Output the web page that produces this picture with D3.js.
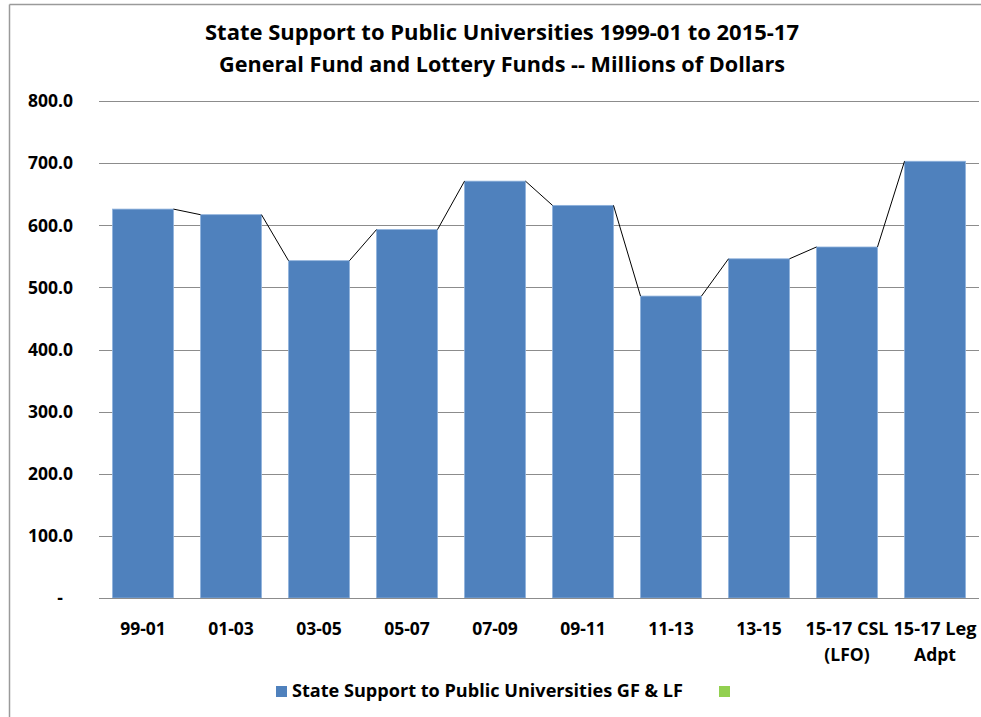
<!DOCTYPE html>
<html>
<head>
<meta charset="utf-8">
<script src="https://cdn.jsdelivr.net/npm/d3@7"></script>
<style>
  html, body { margin: 0; padding: 0; background: #fff; }
  svg { display: block; }
  text { font-family: "Open Sans", "Noto Sans", "DejaVu Sans", sans-serif; font-weight: bold; fill: #000; }
</style>
</head>
<body>
<svg id="chart" width="981" height="717"></svg>
<script>
// ---- data ----
const titleLines = [
  "State Support to Public Universities 1999-01 to 2015-17",
  "General Fund and Lottery Funds -- Millions of Dollars"
];
const categories = ["99-01", "01-03", "03-05", "05-07", "07-09", "09-11", "11-13", "13-15", "15-17 CSL (LFO)", "15-17 Leg Adpt"];
const categoryLines = [["99-01"], ["01-03"], ["03-05"], ["05-07"], ["07-09"], ["09-11"], ["11-13"], ["13-15"], ["15-17 CSL", "(LFO)"], ["15-17 Leg", "Adpt"]];
const supportValues = [626, 617, 543, 593, 671, 632, 486, 546, 565, 703];
const secondValues = [0, 0, 0, 0, 0, 0, 0, 0, 0, 0];
const seriesNames = ["State Support to Public Universities GF & LF", ""];
const seriesColors = ["#4F81BD", "#92D050"];
const yTicks = [0, 100, 200, 300, 400, 500, 600, 700, 800];
const yTickLabels = ["-", "100.0", "200.0", "300.0", "400.0", "500.0", "600.0", "700.0", "800.0"];

// ---- layout ----
const svg = d3.select("#chart");
const plot = { left: 99, right: 979, top: 101, bottom: 598 };

// chart border (top and left visible)
svg.append("line").attr("x1", 9.5).attr("x2", 981).attr("y1", 4.5).attr("y2", 4.5)
  .attr("stroke", "#9a9a9a").attr("stroke-width", 1.5);
svg.append("line").attr("x1", 9.5).attr("x2", 9.5).attr("y1", 4.5).attr("y2", 717)
  .attr("stroke", "#9a9a9a").attr("stroke-width", 1.5);

// title
svg.selectAll("text.title").data(titleLines).enter().append("text")
  .attr("class", "title")
  .attr("x", 502).attr("y", (d, i) => 40 + i * 32)
  .attr("text-anchor", "middle")
  .attr("font-size", 21.5)
  .attr("textLength", (d, i) => i === 0 ? 594 : 566)
  .attr("lengthAdjust", "spacingAndGlyphs")
  .text(d => d);

const x = d3.scaleBand().domain(categories).range([plot.left, plot.right]).paddingInner(0.307).paddingOuter(0.1535);
const y = d3.scaleLinear().domain([0, 800]).range([plot.bottom, plot.top]);

// gridlines
svg.append("g").selectAll("line").data(yTicks.filter(d => d > 0)).enter().append("line")
  .attr("x1", plot.left).attr("x2", plot.right)
  .attr("y1", d => Math.round(y(d)) + 0.5).attr("y2", d => Math.round(y(d)) + 0.5)
  .attr("stroke", "#8c8c8c").attr("stroke-width", 1);

// y-axis labels
svg.append("g").selectAll("text").data(yTicks).enter().append("text")
  .attr("x", d => d === 0 ? 63 : 73)
  .attr("y", d => y(d))
  .attr("dy", "0.36em")
  .attr("text-anchor", "end")
  .attr("font-size", 17.5)
  .text((d, i) => yTickLabels[i]);

// bars
svg.append("g").selectAll("rect").data(supportValues).enter().append("rect")
  .attr("x", (d, i) => x(categories[i]))
  .attr("y", d => y(d))
  .attr("width", x.bandwidth())
  .attr("height", d => y(0) - y(d))
  .attr("fill", seriesColors[0])
  .attr("stroke", "#8fb2dc").attr("stroke-width", 0.8);

// zero series (stacked on top, invisible height)
svg.append("g").selectAll("rect").data(secondValues).enter().append("rect")
  .attr("x", (d, i) => x(categories[i]))
  .attr("y", (d, i) => y(supportValues[i] + d))
  .attr("width", x.bandwidth())
  .attr("height", (d, i) => y(supportValues[i]) - y(supportValues[i] + d))
  .attr("fill", seriesColors[1]);

// series lines connecting bar tops
const segs = d3.range(categories.length - 1).map(i => ({
  x1: x(categories[i]) + x.bandwidth(), y1: y(supportValues[i] + secondValues[i]),
  x2: x(categories[i + 1]), y2: y(supportValues[i + 1] + secondValues[i + 1])
}));
svg.append("g").selectAll("line").data(segs).enter().append("line")
  .attr("x1", d => d.x1).attr("y1", d => d.y1)
  .attr("x2", d => d.x2).attr("y2", d => d.y2)
  .attr("stroke", "#000").attr("stroke-width", 1);

// baseline
svg.append("line").attr("x1", plot.left).attr("x2", plot.right)
  .attr("y1", plot.bottom + 0.5).attr("y2", plot.bottom + 0.5)
  .attr("stroke", "#8c8c8c").attr("stroke-width", 1);

// x labels
const xl = svg.append("g").selectAll("text").data(categoryLines).enter().append("text")
  .attr("x", (d, i) => x(categories[i]) + x.bandwidth() / 2)
  .attr("y", 635)
  .attr("text-anchor", "middle")
  .attr("font-size", 17.5);
xl.selectAll("tspan").data(d => d).enter().append("tspan")
  .attr("x", function () { return d3.select(this.parentNode).attr("x"); })
  .attr("dy", (d, i) => i === 0 ? 0 : 26)
  .attr("textLength", d => d.length > 7 ? 83 : null)
  .attr("lengthAdjust", "spacingAndGlyphs")
  .text(d => d);

// legend
const legend = svg.append("g");
legend.append("rect").attr("x", 276).attr("y", 686).attr("width", 11).attr("height", 11).attr("fill", seriesColors[0]);
legend.append("text").attr("x", 292).attr("y", 697).attr("font-size", 17.5)
  .attr("textLength", 391).attr("lengthAdjust", "spacingAndGlyphs")
  .text(seriesNames[0]);
legend.append("rect").attr("x", 719).attr("y", 686).attr("width", 11).attr("height", 11).attr("fill", seriesColors[1]);
legend.append("text").attr("x", 735).attr("y", 697).attr("font-size", 17.5).text(seriesNames[1]);
</script>
</body>
</html>
